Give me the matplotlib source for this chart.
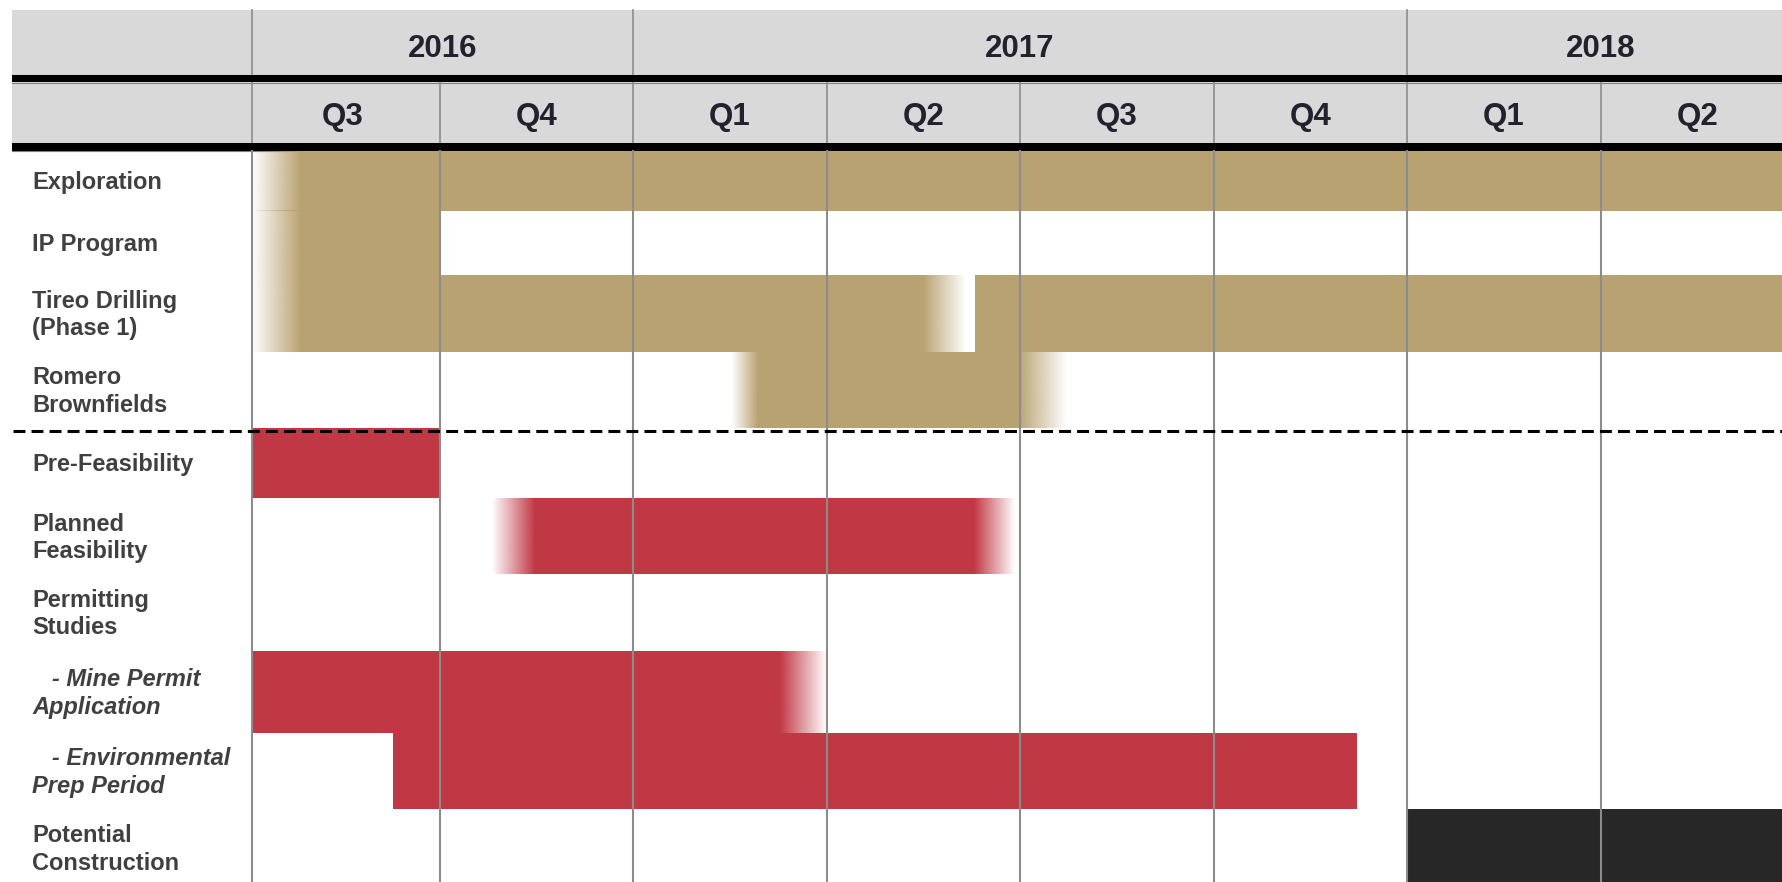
import numpy as np
import matplotlib
matplotlib.use("Agg")
import matplotlib.pyplot as plt
from matplotlib.patches import Rectangle
from matplotlib.colors import to_rgb

plt.rcParams['font.family'] = ['Liberation Sans', 'DejaVu Sans']

# ---------------- data ----------------
years = ["2016", "2017", "2018"]
year_first_q = [0, 2, 6]          # quarter index where each year starts
year_last_q = [2, 6, 8]           # quarter index where each year ends (visible)
quarters = ["Q3", "Q4", "Q1", "Q2", "Q3", "Q4", "Q1", "Q2"]

tasks = ["Exploration", "IP Program", "Tireo Drilling\n(Phase 1)", "Romero\nBrownfields",
         "Pre-Feasibility", "Planned\nFeasibility", "Permitting\nStudies",
         "   - Mine Permit\nApplication", "   - Environmental\nPrep Period",
         "Potential\nConstruction"]
task_italic = [False, False, False, False, False, False, False, True, True, False]

# bars, in quarters counted from start of Q3 2016
bar_task = [0, 1, 2, 2, 3, 4, 5, 7, 8, 9]
bar_start = [0.03, 0.03, 0.03, 3.77, 2.51, 0.03, 1.27, 0.03, 0.76, 6.0]
bar_end = [8.2, 1.0, 3.72, 8.2, 4.24, 1.0, 3.97, 3.0, 5.74, 8.2]
bar_fade_in = [0.25, 0.25, 0.25, 0.0, 0.13, 0.0, 0.22, 0.0, 0.0, 0.0]
bar_fade_out = [0.0, 0.0, 0.22, 0.0, 0.25, 0.0, 0.21, 0.24, 0.0, 0.0]
bar_group = ["exploration", "exploration", "exploration", "exploration", "exploration",
             "studies", "studies", "studies", "studies", "construction"]

# ---------------- style / layout ----------------
group_color = {"exploration": "#B9A271", "studies": "#C13845", "construction": "#272727"}
W, H = 1783, 882
Q0_PX, Q_PX = 246.0, 193.5


def qx(p):
    return (p - Q0_PX) / Q_PX


LABEL_EDGE = qx(252)
HDR_LEFT = qx(11.5)
RIGHT = qx(W) + 0.5
row_heights = [60.0, 64.3, 76.7, 76.6, 70.0, 76.0, 76.7, 81.7, 76.6, 77.0]
body_top = 150.7
row_tops = body_top + np.concatenate([[0], np.cumsum(row_heights)[:-1]])
row_centers = row_tops + np.array(row_heights) / 2
GRID = "#8C8C8C"
HDR_BG = "#D9D9D9"
HDR_TXT = "#22222E"
LBL_TXT = "#404040"

fig = plt.figure(figsize=(W / 100, H / 100), dpi=100)
ax = fig.add_axes([0, 0, 1, 1])
ax.axis("off")

# header
ax.add_patch(Rectangle((HDR_LEFT, 10), RIGHT - HDR_LEFT, 65, facecolor=HDR_BG, edgecolor="none", zorder=1))
ax.add_patch(Rectangle((HDR_LEFT, 82.3), RIGHT - HDR_LEFT, 60.7, facecolor=HDR_BG, edgecolor="none", zorder=1))
ax.add_patch(Rectangle((HDR_LEFT, 75), RIGHT - HDR_LEFT, 7.3, facecolor="black", edgecolor="none", zorder=3))
ax.add_patch(Rectangle((HDR_LEFT, 143), RIGHT - HDR_LEFT, 7.7, facecolor="black", edgecolor="none", zorder=3))
for yy in (74.5, 82.6, 142.6, 151.0):
    ax.plot([HDR_LEFT, RIGHT], [yy, yy], color="#7F7F7F", lw=0.8, zorder=2)

# year separators & labels
for xv in [LABEL_EDGE] + year_first_q[1:]:
    ax.plot([xv, xv], [10, 75], color=GRID, lw=1.2, zorder=2)
for name, a, b in zip(years, year_first_q, year_last_q):
    ax.text((max(a, LABEL_EDGE) + b) / 2, 45.5, name, ha="center", va="center_baseline",
            fontsize=22.5, fontweight="bold", color=HDR_TXT, zorder=4)

# quarter separators & labels
for xv in [LABEL_EDGE] + list(range(1, len(quarters))):
    ax.plot([xv, xv], [82.3, 143], color=GRID, lw=1.2, zorder=2)
for i, qn in enumerate(quarters):
    ax.text(i + 0.5, 113.5, qn, ha="center", va="center_baseline", fontsize=22.5,
            fontweight="bold", color=HDR_TXT, zorder=4)


# bars
def fade(x0, x1, y0, y1, color, out):
    rgb = to_rgb(color)
    n = 256
    alpha = np.linspace(0, 1, n)
    if out:
        alpha = alpha[::-1]
    img = np.zeros((1, n, 4))
    img[..., :3] = rgb
    img[..., 3] = alpha
    ax.imshow(img, extent=(x0, x1, y1, y0), aspect="auto",
              interpolation="bilinear", zorder=2)


for t, s, e, fi, fo, g in zip(bar_task, bar_start, bar_end, bar_fade_in, bar_fade_out, bar_group):
    c = group_color[g]
    y0 = row_tops[t]
    h = row_heights[t]
    ss, ee = s + fi, e - fo
    ax.barh(row_centers[t], ee - ss, left=ss, height=h, color=c, edgecolor="none", zorder=2)
    if fi > 0:
        fade(s, ss, y0, y0 + h, c, out=False)
    if fo > 0:
        fade(ee, e, y0, y0 + h, c, out=True)

# body grid lines
for xv in [LABEL_EDGE] + list(range(1, len(quarters))):
    ax.plot([xv, xv], [body_top, H], color=GRID, lw=1.5, zorder=4)

# dashed separator between exploration and studies
ax.plot([qx(12.6), RIGHT], [row_tops[4] + 2.7] * 2, color="black", lw=2.2,
        linestyle=(0, (3.9, 2.0)), zorder=5)

# task labels
for i, (name, it) in enumerate(zip(tasks, task_italic)):
    ax.text(qx(32), row_centers[i] + 1.5, name, ha="left", va="center", fontsize=17,
            fontweight="bold", fontstyle="italic" if it else "normal",
            color=LBL_TXT, linespacing=1.25, zorder=4)

ax.set_xlim(qx(0), qx(W))
ax.set_ylim(H, 0)
fig.savefig("out.png", dpi=100, facecolor="white")
